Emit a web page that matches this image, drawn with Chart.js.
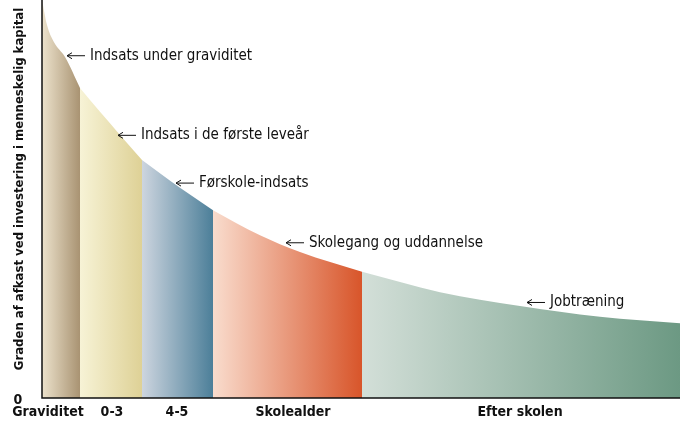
<!DOCTYPE html>
<html>
<head>
<meta charset="utf-8">
<script src="https://cdn.jsdelivr.net/npm/chart.js@4"></script>
<style>
  body { margin: 0; background: #fff; }
  #wrap { width: 698px; height: 428px; }
</style>
</head>
<body>
<div id="wrap"><canvas id="chart"></canvas></div>
<script>
// curve of return on investment (relative scale 0-100) along age axis (0-638)
var curveX = [0, 5, 12, 23, 38, 58, 78, 100, 138, 171, 218, 258, 320, 398, 478, 558, 638];
var curveY = [100, 93.7, 89.4, 85.7, 77.9, 71.9, 66.1, 59.8, 52.8, 47.2, 40.9, 36.7, 31.7, 26.6, 23.1, 20.4, 18.8];

var stageLabels = ['Graviditet', '0-3', '4-5', 'Skolealder', 'Efter skolen'];
var stageLabelX = [6, 70, 135, 251, 478];
var stageBounds = [0, 38, 100, 171, 320, 638];
var stageColors = [
  ['#ece2cc', '#a99372'],
  ['#f7f3d6', '#ded196'],
  ['#cdd5df', '#4c7f99'],
  ['#f9dccd', '#d8552a'],
  ['#d3dfd8', '#6c9983']
];

var noteText = ['Indsats under graviditet', 'Indsats i de første leveår', 'Førskole-indsats',
                'Skolegang og uddannelse', 'Jobtræning'];
var noteX = [25, 76, 134, 244, 485];
var noteY = [86, 66, 54, 39, 24];

var FONT = '"Liberation Sans Narrow", "DejaVu Sans Condensed", "Roboto", sans-serif';

var datasets = [];
for (var s = 0; s < 5; s++) {
  var pts = [];
  for (var i = 0; i < curveX.length; i++) {
    if (curveX[i] >= stageBounds[s] && curveX[i] <= stageBounds[s + 1]) {
      pts.push({x: curveX[i], y: curveY[i]});
    }
  }
  (function (s) {
    datasets.push({
      data: pts,
      fill: 'origin',
      borderWidth: 0,
      pointRadius: 0,
      cubicInterpolationMode: 'monotone',
      backgroundColor: function (ctx) {
        var ch = ctx.chart;
        if (!ch.chartArea) return stageColors[s][1];
        var xs = ch.scales.x;
        var g = ch.ctx.createLinearGradient(xs.getPixelForValue(stageBounds[s]), 0,
                                            xs.getPixelForValue(stageBounds[s + 1]), 0);
        g.addColorStop(0, stageColors[s][0]);
        g.addColorStop(1, stageColors[s][1]);
        return g;
      }
    });
  })(s);
}

var decor = {
  id: 'decor',
  afterDraw: function (chart) {
    var c = chart.ctx, xs = chart.scales.x, ys = chart.scales.y, a = chart.chartArea;
    c.save();
    // axes
    c.strokeStyle = '#111';
    c.lineWidth = 1.5;
    c.beginPath();
    c.moveTo(a.left, a.top);
    c.lineTo(a.left, a.bottom);
    c.lineTo(a.right, a.bottom);
    c.stroke();
    // notes with arrows
    c.font = '15px ' + FONT;
    c.fillStyle = '#111';
    c.textBaseline = 'middle';
    for (var i = 0; i < noteText.length; i++) {
      var px = xs.getPixelForValue(noteX[i]), py = ys.getPixelForValue(noteY[i]);
      c.lineWidth = 1;
      c.beginPath();
      c.moveTo(px, py); c.lineTo(px + 18, py);
      c.moveTo(px, py); c.lineTo(px + 5, py - 3);
      c.moveTo(px, py); c.lineTo(px + 5, py + 3);
      c.stroke();
      c.fillText(noteText[i], px + 23, py);
    }
    // stage labels
    c.font = 'bold 14px ' + FONT;
    c.textAlign = 'center';
    for (var s = 0; s < stageLabels.length; s++) {
      c.fillText(stageLabels[s], xs.getPixelForValue(stageLabelX[s]), a.bottom + 14);
    }
    c.fillText('0', a.left - 24, a.bottom + 2);
    // y title
    c.translate(20, (a.top + a.bottom) / 2 - 10);
    c.rotate(-Math.PI / 2);
    c.font = 'bold 13px ' + FONT;
    c.fillText('Graden af afkast ved investering i menneskelig kapital', 0, 0);
    c.restore();
  }
};

new Chart(document.getElementById('chart'), {
  type: 'line',
  data: {datasets: datasets},
  options: {
    responsive: true,
    maintainAspectRatio: false,
    animation: false,
    layout: {padding: {left: 42, right: 18, top: 0, bottom: 30}},
    plugins: {legend: {display: false}, tooltip: {enabled: false}},
    scales: {
      x: {type: 'linear', min: 0, max: 638, display: false},
      y: {min: 0, max: 100, display: false}
    }
  },
  plugins: [decor]
});
</script>
</body>
</html>
